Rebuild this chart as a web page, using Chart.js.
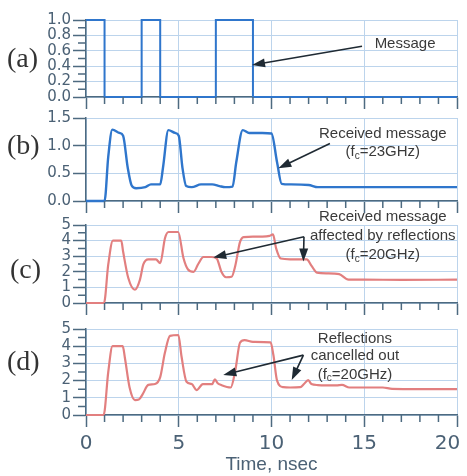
<!DOCTYPE html>
<html>
<head>
<meta charset="utf-8">
<script src="https://cdn.jsdelivr.net/npm/chart.js@4"></script>
<style>
  body { margin: 0; width: 467px; height: 476px; overflow: hidden; background: #fff; position: relative; }
  canvas { position: absolute; left: 0; }
  .tag { position: absolute; left: 7px; font: 28px "Liberation Serif", serif; color: #333; line-height: 1; }
</style>
</head>
<body>
<canvas id="cA" width="467" height="112" style="top:0"></canvas>
<canvas id="cB" width="467" height="112" style="top:105px"></canvas>
<canvas id="cC" width="467" height="114" style="top:204px"></canvas>
<canvas id="cD" width="490" height="160" style="top:316px"></canvas>
<div class="tag" style="top:44px">(a)</div>
<div class="tag" style="top:131px">(b)</div>
<div class="tag" style="top:255px;left:10px">(c)</div>
<div class="tag" style="top:347px">(d)</div>

<script>
// time axis (ns)
const xTicks = [0, 5, 10, 15, 20];

// (a) transmitted message
const msgT = [0, 1, 1, 3, 3, 4, 4, 7, 7, 9, 9, 20];
const msgV = [1, 1, 0, 0, 1, 1, 0, 0, 1, 1, 0, 0];

// (b) received, fc = 23GHz
const rxT = [0, 1.0, 1.2, 1.42, 1.8, 2.0, 2.25, 2.46, 2.7, 3.2, 3.5, 4.0, 4.15, 4.44, 4.8, 5.0, 5.2, 5.4, 5.7, 6.2, 6.8, 7.2, 7.5, 7.9, 8.1, 8.45, 8.8, 9.5, 10.0, 10.3, 10.55, 11.0, 12.0, 12.5, 14, 16, 20];
const rxV = [0, 0, 0.8, 1.29, 1.23, 1.18, 0.6, 0.28, 0.23, 0.25, 0.3, 0.3, 0.6, 1.28, 1.23, 1.18, 0.6, 0.27, 0.25, 0.3, 0.3, 0.27, 0.25, 0.26, 0.7, 1.28, 1.23, 1.23, 1.22, 0.7, 0.31, 0.3, 0.29, 0.25, 0.25, 0.25, 0.25];

// (c) received with reflections, fc = 20GHz
const reflT = [0, 0.97, 1.2, 1.45, 1.9, 2.0, 2.28, 2.64, 2.91, 3.09, 3.36, 3.77, 4.0, 4.26, 4.45, 4.97, 5.25, 5.5, 5.8, 6.05, 6.33, 6.75, 7.05, 7.3, 7.55, 7.85, 8.05, 8.3, 8.5, 9.0, 9.5, 9.9, 10.08, 10.25, 10.5, 11.0, 11.9, 12.15, 12.45, 13.0, 13.65, 14.15, 15, 17, 20];
const reflV = [0, 0, 2.47, 4.0, 4.0, 3.3, 1.6, 0.85, 1.5, 2.47, 2.8, 2.8, 2.55, 4.17, 4.55, 4.55, 2.9, 2.15, 2.0, 2.5, 2.95, 2.95, 2.85, 2.0, 1.65, 1.68, 2.4, 3.9, 4.22, 4.25, 4.25, 4.3, 4.4, 3.5, 2.85, 2.8, 2.8, 2.4, 1.95, 1.9, 1.85, 1.5, 1.5, 1.48, 1.5];

// (d) reflections cancelled, fc = 20GHz
const cancT = [0, 0.95, 1.2, 1.43, 1.98, 2.1, 2.35, 2.64, 2.85, 3.05, 3.36, 3.72, 4.0, 4.25, 4.53, 4.98, 5.15, 5.42, 5.7, 5.96, 6.3, 6.8, 6.95, 7.1, 7.3, 7.8, 8.05, 8.3, 8.55, 9.0, 9.95, 10.1, 10.3, 10.64, 11.0, 11.55, 11.75, 11.98, 12.15, 12.5, 13.5, 13.8, 14.2, 16, 16.5, 20];
const cancV = [0, 0, 2.5, 4.0, 4.0, 3.3, 1.6, 0.87, 0.9, 1.2, 1.75, 1.8, 2.2, 3.6, 4.6, 4.65, 3.4, 1.93, 1.8, 1.45, 1.8, 1.8, 2.07, 1.85, 1.74, 1.6, 2.6, 4.2, 4.35, 4.25, 4.22, 3.5, 2.0, 1.62, 1.6, 1.62, 1.8, 2.03, 1.8, 1.74, 1.72, 1.75, 1.6, 1.6, 1.52, 1.5];

const yTicksA = [0, 0.2, 0.4, 0.6, 0.8, 1.0];
const yTicksB = [0, 0.5, 1.0, 1.5];
const yTicksCD = [0, 1, 2, 3, 4, 5];

const gridCol = '#bcd4ec';
const axisCol = '#4d6a80';
const labelCol = '#4b6175';
const noteCol = '#3a3a3a';
const arrowCol = '#1f2a33';
const blue = '#2f76cc';
const pink = '#e27f7f';

function pts(t, v) { return t.map((x, i) => ({ x, y: v[i] })); }

// draws "(f_c=..)" style text with a subscript c
function drawText(ctx, str, cx, cy) {
  const big = '15px "Liberation Sans", Arial, sans-serif';
  const small = '10px "Liberation Sans", Arial, sans-serif';
  const parts = str.split('_');
  const segs = [{ s: parts[0], sub: false }];
  if (parts.length > 1) {
    segs.push({ s: parts[1][0], sub: true });
    segs.push({ s: parts[1].slice(1), sub: false });
  }
  let w = 0;
  segs.forEach(g => { ctx.font = g.sub ? small : big; g.w = ctx.measureText(g.s).width; w += g.w; });
  let x = cx - w / 2;
  ctx.fillStyle = noteCol;
  ctx.textBaseline = 'middle';
  ctx.textAlign = 'left';
  segs.forEach(g => { ctx.font = g.sub ? small : big; ctx.fillText(g.s, x, cy + (g.sub ? 4 : 0)); x += g.w; });
}

function arrow(ctx, x0, y0, x1, y1) {
  const ang = Math.atan2(y1 - y0, x1 - x0);
  const L = 13, H = 4.5;
  ctx.strokeStyle = arrowCol; ctx.fillStyle = arrowCol; ctx.lineWidth = 1.6;
  ctx.beginPath();
  ctx.moveTo(x0, y0);
  ctx.lineTo(x1 - Math.cos(ang) * L * 0.8, y1 - Math.sin(ang) * L * 0.8);
  ctx.stroke();
  ctx.beginPath();
  ctx.moveTo(x1, y1);
  ctx.lineTo(x1 - Math.cos(ang) * L - Math.sin(ang) * H, y1 - Math.sin(ang) * L + Math.cos(ang) * H);
  ctx.lineTo(x1 - Math.cos(ang) * L + Math.sin(ang) * H, y1 - Math.sin(ang) * L - Math.cos(ang) * H);
  ctx.closePath();
  ctx.fill();
}

// minor tick marks (majors come from the axes) + text notes, placed in data units
function decor(yMajor, yStep, notes) {
  return {
    id: 'decor',
    afterDraw(chart) {
      const { ctx, chartArea: a, scales: { x, y } } = chart;
      ctx.save();
      ctx.strokeStyle = axisCol; ctx.lineWidth = 1.5;
      ctx.beginPath();
      for (let t = 1; t < 20; t++) {
        if (t % 5 === 0) continue;
        const px = x.getPixelForValue(t);
        ctx.moveTo(px, a.bottom);
        ctx.lineTo(px, a.bottom + 7);
      }
      const top = yMajor[yMajor.length - 1];
      for (let v = 0; v <= top + 1e-9; v += yStep) {
        if (yMajor.some(m => Math.abs(m - v) < 1e-6)) continue;
        const py = y.getPixelForValue(v);
        ctx.moveTo(a.left, py);
        ctx.lineTo(a.left - 8, py);
      }
      ctx.stroke();
      notes.texts.forEach(n => drawText(ctx, n.text, x.getPixelForValue(n.x), y.getPixelForValue(n.y)));
      notes.arrows.forEach(r => arrow(ctx, x.getPixelForValue(r[0]), y.getPixelForValue(r[1]), x.getPixelForValue(r[2]), y.getPixelForValue(r[3])));
      ctx.restore();
    }
  };
}

function makeChart(id, o) {
  return new Chart(document.getElementById(id), {
    type: 'line',
    data: { datasets: [{ data: o.data, borderColor: o.color, borderWidth: o.lw || 2, pointRadius: 0, tension: 0, cubicInterpolationMode: o.smooth ? 'monotone' : 'default', clip: false, fill: false }] },
    options: {
      responsive: false, animation: false, devicePixelRatio: 1,
      layout: { padding: { top: o.padTop, right: o.padRight || 10, left: 0, bottom: 0 } },
      plugins: { legend: { display: false }, tooltip: { enabled: false } },
      scales: {
        x: {
          type: 'linear', min: 0, max: 20,
          afterBuildTicks: s => { s.ticks = xTicks.map(v => ({ value: v })); },
          afterFit: s => { s.height = o.xHeight; },
          grid: { color: gridCol, lineWidth: 1, tickLength: 12, tickColor: axisCol, tickWidth: 1.5 },
          border: { color: axisCol, width: 1.5 },
          ticks: {
            display: !!o.showX, padding: 5, color: labelCol, maxRotation: 0, autoSkip: false,
            font: { family: 'DejaVu Sans', size: 20 },
            // last label sits left of its tick in the original
            callback: v => v === 20 ? '20   ' : String(v)
          },
          title: { display: !!o.showX, text: 'Time, nsec', color: labelCol, padding: 0, font: { family: 'Liberation Sans', size: 19 } }
        },
        y: {
          min: o.yMin, max: o.yMax,
          afterBuildTicks: s => { s.ticks = o.yTicks.map(v => ({ value: v })); },
          afterFit: s => { s.width = 86; },
          grid: { color: gridCol, lineWidth: 1, tickLength: 13, tickColor: axisCol, tickWidth: 1.5 },
          border: { color: axisCol, width: 1.5 },
          ticks: { padding: 2, autoSkip: false, color: labelCol, font: { family: 'DejaVu Sans', size: 15 }, callback: v => o.fmt(v) }
        }
      }
    },
    plugins: [decor(o.yTicks, o.yStep, o.notes)]
  });
}

makeChart('cA', {
  data: pts(msgT, msgV), color: blue, lw: 2, padTop: 20, xHeight: 15,
  yMin: 0, yMax: 1, yTicks: yTicksA, yStep: 0.1, fmt: v => Number(v).toFixed(1),
  notes: { texts: [{ x: 17.2, y: 0.69, text: 'Message' }], arrows: [[14.88, 0.66, 8.95, 0.415]] }
});

makeChart('cB', {
  data: pts(rxT, rxV), color: blue, lw: 2.4, smooth: true, padTop: 13, xHeight: 16,
  yMin: 0, yMax: 1.5, yTicks: yTicksB, yStep: 0.5, fmt: v => Number(v).toFixed(1),
  notes: {
    texts: [{ x: 16.0, y: 1.22, text: 'Received message' }, { x: 16.0, y: 0.89, text: '(f_c=23GHz)' }],
    arrows: [[13.15, 1.04, 10.37, 0.59]]
  }
});

makeChart('cC', {
  data: pts(reflT, reflV), color: pink, lw: 2.2, smooth: true, padTop: 21, xHeight: 15,
  yMin: 0, yMax: 5, yTicks: yTicksCD, yStep: 0.5, fmt: v => String(v),
  notes: {
    texts: [{ x: 16.0, y: 5.49, text: 'Received message' }, { x: 16.0, y: 4.3, text: 'affected by reflections' }, { x: 16.0, y: 3.08, text: '(f_c=20GHz)' }],
    arrows: [[11.75, 4.25, 6.86, 2.91], [11.75, 4.25, 11.72, 2.66]]
  }
});

makeChart('cD', {
  data: pts(cancT, cancV), color: pink, lw: 2.2, smooth: true, padTop: 13, padRight: 33, xHeight: 61, showX: true,
  yMin: 0, yMax: 5, yTicks: yTicksCD, yStep: 0.5, fmt: v => String(v),
  notes: {
    texts: [{ x: 14.5, y: 4.42, text: 'Reflections' }, { x: 14.5, y: 3.42, text: 'cancelled out' }, { x: 14.5, y: 2.36, text: '(f_c=20GHz)' }],
    arrows: [[11.72, 3.48, 7.4, 2.32], [11.72, 3.48, 11.09, 2.03]]
  }
});
</script>
</body>
</html>
